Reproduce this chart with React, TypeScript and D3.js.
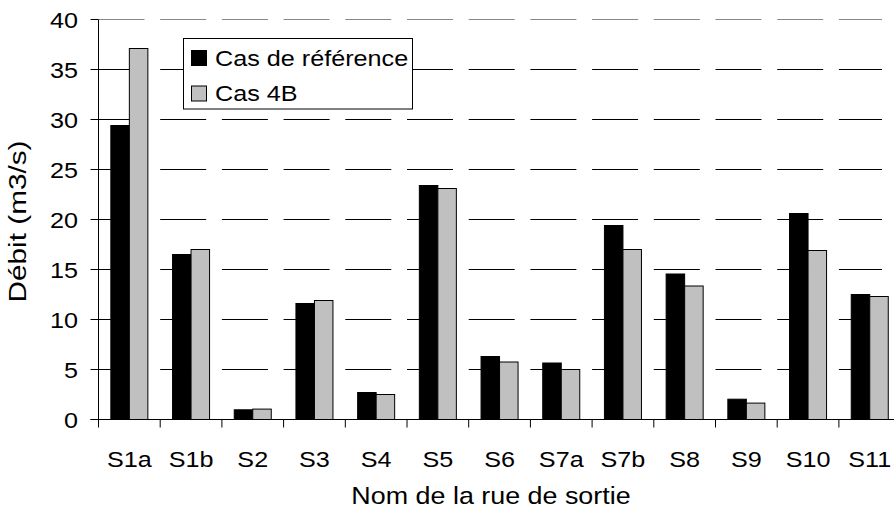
import React from 'react';
import * as d3 from 'd3';

// exit streets and flow values (m3/s)
const categories = ['S1a', 'S1b', 'S2', 'S3', 'S4', 'S5', 'S6', 'S7a', 'S7b', 'S8', 'S9', 'S10', 'S11'];
const seriesNames = ['Cas de référence', 'Cas 4B'];
const refValues = [29.4, 16.5, 0.97, 11.6, 2.7, 23.4, 6.3, 5.65, 19.4, 14.55, 2.03, 20.6, 12.5];
const caseValues = [37.1, 17.0, 1.04, 11.9, 2.5, 23.1, 5.75, 5.0, 17.0, 13.35, 1.64, 16.9, 12.3];
const yTicks = [0, 5, 10, 15, 20, 25, 30, 35, 40];
const colors = ['#000000', '#c0c0c0'];

const FONT = '"Liberation Sans", Arial, sans-serif';
const SX = 1.12; // the original text is a bit wider than Arial

const W = 894;
const H = 510;
const left = 98.5;
const top = 19.5;
const bottom = 419.5;
const step = 61.7;
const right = left + step * categories.length;

function Label(props: { x: number; y: number; size: number; anchor?: string; rotate?: number; sx?: number; children: React.ReactNode }) {
  const { x, y, size, anchor = 'start', rotate = 0, sx = SX, children } = props;
  return (
    <text
      transform={`translate(${x},${y}) rotate(${rotate}) scale(${sx},1)`}
      fontFamily={FONT}
      fontSize={size}
      textAnchor={anchor}
      fill="#000"
    >
      {children}
    </text>
  );
}

export default function App() {
  const x0 = d3.scaleBand<string>().domain(categories).range([left, right]).padding(0);
  const x1 = d3.scaleBand<string>().domain(seriesNames).range([0.2 * x0.step(), 0.8 * x0.step()]).padding(0);
  const y = d3.scaleLinear().domain([0, 40]).range([bottom, top]);

  const series = [refValues, caseValues];
  const gridEnd = 882;

  return (
    <svg width={W} height={H} style={{ position: 'absolute', left: 0, top: 0, background: '#fff' }}>
      {/* dashed gridlines */}
      {yTicks.filter(t => t > 0).map(t => (
        <line
          key={'g' + t}
          x1={left}
          x2={gridEnd}
          y1={y(t)}
          y2={y(t)}
          stroke={t === 40 ? '#888' : '#000'}
          strokeWidth={1}
          strokeDasharray="46,15.7"
        />
      ))}

      {/* bars */}
      {series.map((vals, si) =>
        vals.map((v, i) => (
          <rect
            key={`b${si}-${i}`}
            x={(x0(categories[i]) || 0) + (x1(seriesNames[si]) || 0)}
            y={y(v)}
            width={x1.bandwidth()}
            height={bottom - y(v)}
            fill={colors[si]}
            stroke="#000"
            strokeWidth={1}
          />
        ))
      )}

      {/* y axis */}
      <line x1={left} x2={left} y1={top} y2={bottom} stroke="#000" />
      {yTicks.map(t => (
        <g key={'y' + t}>
          <line x1={left - 8} x2={left} y1={y(t)} y2={y(t)} stroke="#000" />
          <Label x={78} y={y(t) + 8} size={22.5} anchor="end">{t}</Label>
        </g>
      ))}

      {/* x axis */}
      <line x1={left - 8} x2={right} y1={bottom} y2={bottom} stroke="#000" />
      {categories.map(c => (
        <line key={'t' + c} x1={x0(c)} x2={x0(c)} y1={bottom} y2={bottom + 8} stroke="#000" />
      ))}
      {categories.map(c => (
        <Label key={'l' + c} x={(x0(c) || 0) + x0.bandwidth() / 2} y={466.5} size={22.5} anchor="middle">{c}</Label>
      ))}

      {/* axis titles */}
      <Label x={491} y={503.5} size={24} anchor="middle">Nom de la rue de sortie</Label>
      <Label x={26} y={221.5} size={24} anchor="middle" rotate={-90} sx={1.24}>Débit (m3/s)</Label>

      {/* legend */}
      <rect x={183.5} y={38.5} width={229} height={70.5} fill="#fff" stroke="#000" />
      {seriesNames.map((s, i) => (
        <g key={'lg' + s}>
          <rect x={191.5} y={50.5 + i * 35.5} width={15} height={15} fill={colors[i]} stroke="#000" />
          <Label x={215} y={65.5 + i * 35.5} size={22.5}>{s}</Label>
        </g>
      ))}
    </svg>
  );
}
